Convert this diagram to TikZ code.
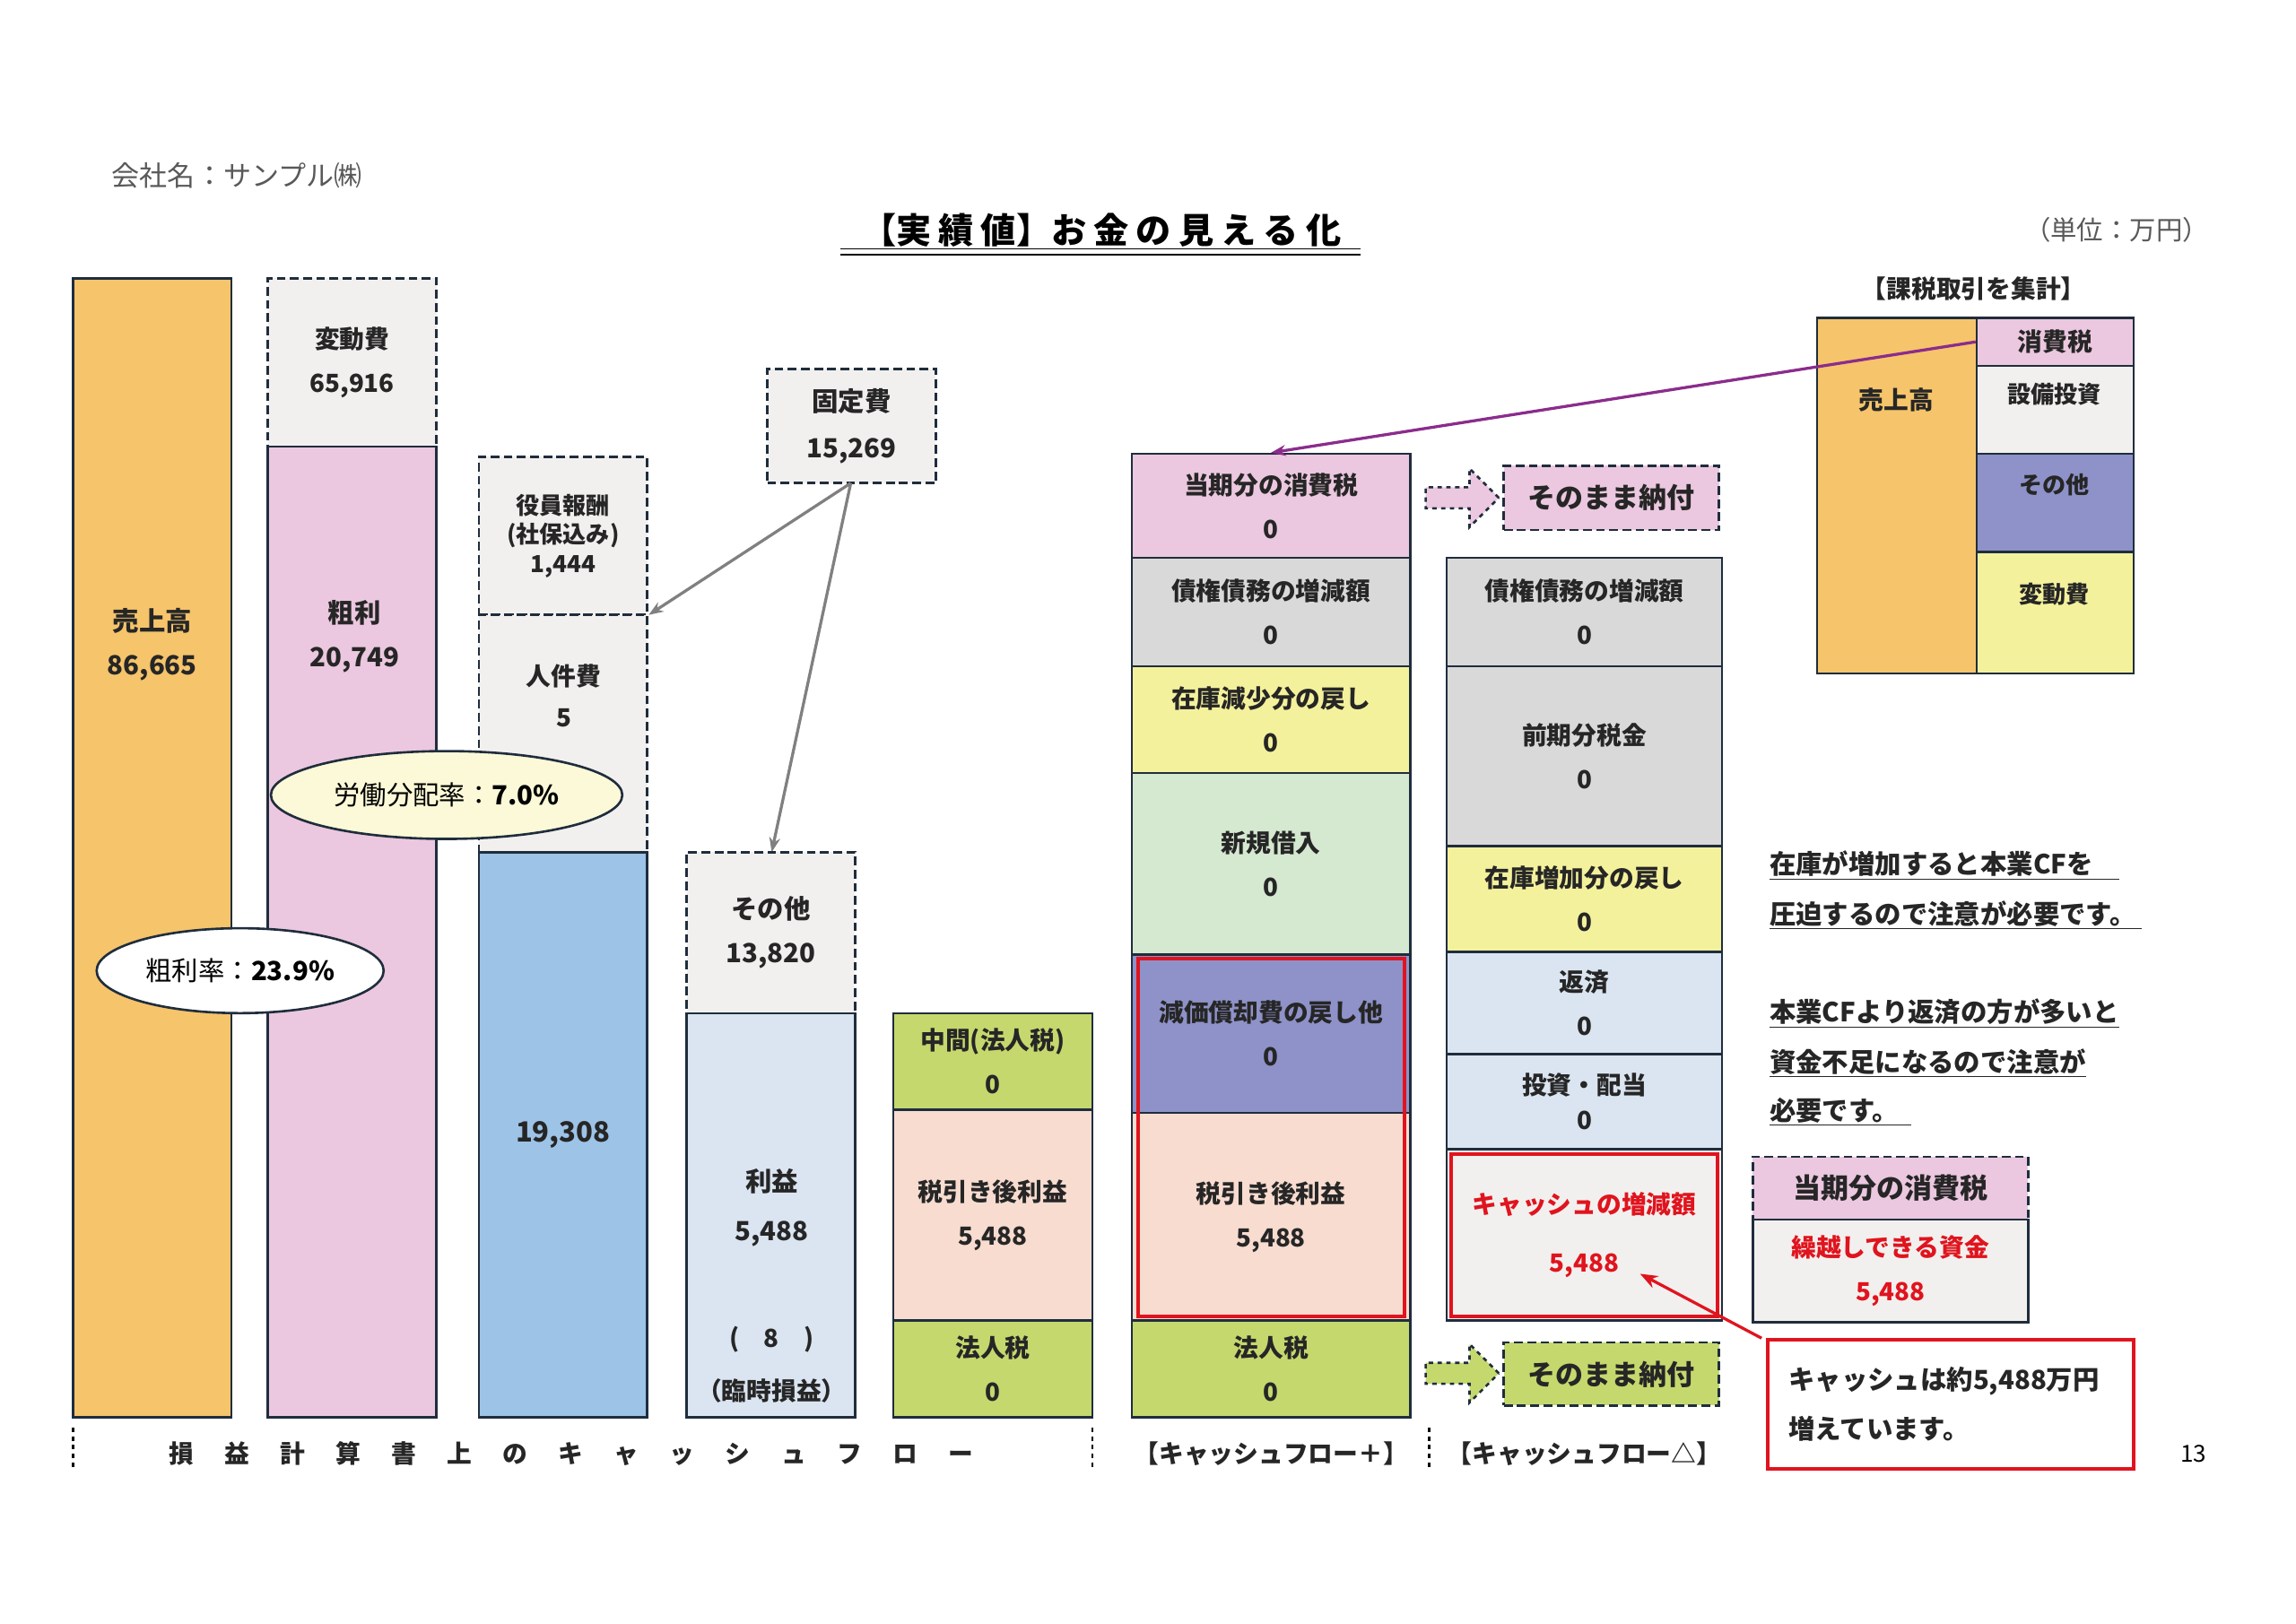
\documentclass[tikz,border=0pt]{standalone}
\usepackage{fontspec}
\setmainfont{Noto Sans CJK JP}
\usetikzlibrary{shapes.geometric,shapes.arrows,calc,arrows.meta}
\definecolor{nav}{HTML}{1F2D3D}
\definecolor{cor}{HTML}{F5C46B}
\definecolor{cpk}{HTML}{EBC8DF}
\definecolor{cgr}{HTML}{F2F0EE}
\definecolor{cbl}{HTML}{9DC3E6}
\definecolor{clb}{HTML}{DAE5F1}
\definecolor{cgn}{HTML}{C4D86E}
\definecolor{cpe}{HTML}{F8DCD0}
\definecolor{cdg}{HTML}{D9D9D9}
\definecolor{cye}{HTML}{F4F19C}
\definecolor{clg}{HTML}{D5E8D0}
\definecolor{cpu}{HTML}{8E92C8}
\definecolor{cre}{HTML}{E0141E}
\definecolor{cvi}{HTML}{8B2C8C}
\tikzset{
 bx/.style={draw=nav,line width=1.6pt,inner sep=0pt,align=center,font=\bfseries\fontsize{17}{30}\selectfont,text=black!85},
 dbx/.style={bx,dashed,dash pattern=on 6pt off 3pt},
 lbl/.style={font=\bfseries\fontsize{17}{24}\selectfont,text=black!85},
 redb/.style={draw=cre,line width=2.5pt},
}
\newcommand\mybox[7]{%
 \pgfmathsetmacro\bw{#4-#2}\pgfmathsetmacro\bh{#5-#3}%
 \pgfmathsetmacro\cx{(#2+#4)/2}\pgfmathsetmacro\cy{(#3+#5)/2}%
 \node[#6,minimum width=\bw pt,minimum height=\bh pt] (#1) at (\cx,\cy) {#7};}
\begin{document}
\begin{tikzpicture}[x=1pt,y=-1pt]
\useasboundingbox[fill=white] (0,0) rectangle (1568,1109);
\node[anchor=west,font=\fontsize{19}{22}\selectfont,text=black!65] (co) at (73,120) {会社名：サンプル㈱};
\node[font=\bfseries\fontsize{24}{28}\selectfont] (ti) at (752,157) {【実\hspace{5pt}績\hspace{5pt}値】お\hspace{5pt}金\hspace{5pt}の\hspace{5pt}見\hspace{5pt}え\hspace{5pt}る\hspace{5pt}化};
\draw[line width=1pt] (574,170) -- (929,170) (574,174) -- (929,174);
\node[anchor=east,font=\fontsize{18}{22}\selectfont,text=black!65] (un) at (1512,157) {（単位：万円）};
% bar1
\mybox{b1}{50}{190}{158}{968}{bx,fill=cor}{}
\node[lbl,align=center,font=\bfseries\fontsize{18}{30}\selectfont] (b1t) at (104,440) {売上高\\86,665};
% bar2
\mybox{b2a}{183}{190}{298}{305}{dbx,fill=cgr}{変動費\\65,916}
\mybox{b2b}{183}{305}{298}{968}{bx,fill=cpk}{}
\node[lbl,align=center,font=\bfseries\fontsize{18}{30}\selectfont] (b2t) at (242,435) {粗利\\20,749};
% bar3
\mybox{b3a}{327}{312}{442}{420}{dbx,fill=cgr,font=\bfseries\fontsize{16}{20}\selectfont}{役員報酬\\(社保込み)\\1,444}
\mybox{b3b}{327}{420}{442}{582}{dbx,fill=cgr}{}
\node[lbl,align=center,font=\bfseries\fontsize{17}{28}\selectfont] (b3bt) at (385,475) {人件費\\5};
\mybox{b3c}{327}{582}{442}{968}{bx,fill=cbl,font=\bfseries\fontsize{19}{24}\selectfont}{19,308}
% fixed cost
\mybox{fc}{524}{252}{639}{330}{dbx,fill=cgr,font=\bfseries\fontsize{18}{32}\selectfont}{固定費\\15,269}
\coordinate (fcs) at (581,330);
\coordinate (t1) at (443,420);
\coordinate (t2) at (527,582);
\draw[-{Stealth[length=10pt]},draw=black!50,line width=2pt] (fcs) -- (t1);
\draw[-{Stealth[length=10pt]},draw=black!50,line width=2pt] (fcs) -- (t2);
% bar4
\mybox{b4a}{469}{582}{584}{692}{dbx,fill=cgr,font=\bfseries\fontsize{18}{30}\selectfont}{その他\\13,820}
\mybox{b4b}{469}{692}{584}{968}{bx,fill=clb}{}
\node[lbl,align=center,font=\bfseries\fontsize{18}{34}\selectfont] (b4t) at (527,825) {利益\\5,488};
\node[lbl] (b4c) at (527,915) {(\quad 8\quad )};
\node[lbl] (b4d) at (527,950) {（臨時損益）};
% bar5
\mybox{b5a}{610}{692}{746}{758}{bx,fill=cgn}{中間(法人税)\\0}
\mybox{b5b}{610}{758}{746}{902}{bx,fill=cpe}{税引き後利益\\5,488}
\mybox{b5c}{610}{902}{746}{968}{bx,fill=cgn}{法人税\\0}
% ellipses
\node[ellipse,draw=nav,line width=1.6pt,fill=cye!40,minimum width=240pt,minimum height=60pt,font=\fontsize{18}{22}\selectfont] (e1) at (305,543) {労働分配率：\textbf{7.0\%}};
\node[ellipse,draw=nav,line width=1.6pt,fill=white,minimum width=196pt,minimum height=58pt,font=\fontsize{18}{22}\selectfont] (e2) at (164,663) {粗利率：\textbf{23.9\%}};
% bottom labels
\coordinate (d1a) at (50,975); \coordinate (d1b) at (50,1002);
\coordinate (d2a) at (746,975); \coordinate (d2b) at (746,1002);
\coordinate (d3a) at (976,975); \coordinate (d3b) at (976,1002);
\draw[dashed,line width=1.6pt] (d1a) -- (d1b) (d2a) -- (d2b) (d3a) -- (d3b);
\node[lbl] (pl) at (390,993) {損\hspace{21pt}益\hspace{21pt}計\hspace{21pt}算\hspace{21pt}書\hspace{21pt}上\hspace{21pt}の\hspace{21pt}キ\hspace{21pt}ャ\hspace{21pt}ッ\hspace{21pt}シ\hspace{21pt}ュ\hspace{21pt}フ\hspace{21pt}ロ\hspace{21pt}ー};
\node[lbl] (cfp) at (868,993) {【キャッシュフロー＋】};
\node[lbl] (cfm) at (1082,993) {【キャッシュフロー△】};
% column 6
\mybox{c6a}{773}{310}{963}{381}{bx,fill=cpk}{当期分の消費税\\0}
\mybox{c6b}{773}{381}{963}{455}{bx,fill=cdg}{債権債務の増減額\\0}
\mybox{c6c}{773}{455}{963}{528}{bx,fill=cye}{在庫減少分の戻し\\0}
\mybox{c6d}{773}{528}{963}{652}{bx,fill=clg}{新規借入\\0}
\mybox{c6e}{773}{652}{963}{760}{bx,fill=cpu}{減価償却費の戻し他\\0}
\mybox{c6f}{773}{760}{963}{902}{bx,fill=cpe}{税引き後利益\\5,488}
\mybox{c6g}{773}{902}{963}{968}{bx,fill=cgn}{法人税\\0}
\mybox{r6}{777}{655}{959}{899}{redb}{}
% column 7
\mybox{c7a}{988}{381}{1176}{455}{bx,fill=cdg}{債権債務の増減額\\0}
\mybox{c7b}{988}{455}{1176}{578}{bx,fill=cdg}{前期分税金\\0}
\mybox{c7c}{988}{578}{1176}{650}{bx,fill=cye}{在庫増加分の戻し\\0}
\mybox{c7d}{988}{650}{1176}{720}{bx,fill=clb}{返済\\0}
\mybox{c7e}{988}{720}{1176}{785}{bx,fill=clb,font=\bfseries\fontsize{17}{24}\selectfont}{投資・配当\\0}
\mybox{c7f}{988}{785}{1176}{902}{bx,fill=cgr}{}
\mybox{r7}{991}{788}{1173}{899}{redb,text=cre,align=center,font=\bfseries\fontsize{17}{40}\selectfont}{キャッシュの増減額\\5,488}
% block arrows and boxes
\node[single arrow,draw=nav,dashed,line width=1.6pt,fill=cpk,minimum height=50pt,minimum width=40pt,single arrow head extend=5pt,inner sep=2pt] (ar1) at (995,340) {};
\mybox{nf1}{1027}{318}{1174}{362}{dbx,fill=cpk,font=\bfseries\fontsize{19}{24}\selectfont}{そのまま納付}
\node[single arrow,draw=nav,dashed,line width=1.6pt,fill=cgn,minimum height=50pt,minimum width=40pt,single arrow head extend=5pt,inner sep=2pt] (ar2) at (995,938) {};
\mybox{nf2}{1027}{917}{1174}{960}{dbx,fill=cgn,font=\bfseries\fontsize{19}{24}\selectfont}{そのまま納付}
% top right
\node[lbl] (kz) at (1348,197) {【課税取引を集計】};
\mybox{tr1}{1241}{217}{1350}{460}{bx,fill=cor}{}
\node[lbl] (tr1t) at (1295,273) {売上高};
\mybox{tr2}{1350}{217}{1457}{250}{bx,fill=cpk}{消費税}
\mybox{tr3}{1350}{250}{1457}{310}{bx,fill=cgr}{}
\node[lbl,font=\bfseries\fontsize{16}{20}\selectfont] (tr3t) at (1403,269) {設備投資};
\mybox{tr4}{1350}{310}{1457}{377}{bx,fill=cpu}{}
\node[lbl,font=\bfseries\fontsize{16}{20}\selectfont] (tr4t) at (1403,331) {その他};
\mybox{tr5}{1350}{377}{1457}{460}{bx,fill=cye}{}
\node[lbl,font=\bfseries\fontsize{16}{20}\selectfont] (tr5t) at (1403,406) {変動費};
\draw[-{Stealth[length=10pt]},draw=cvi,line width=2pt] (tr2.west) -- (c6a.north);
% notes
\tikzset{note/.style={anchor=base west,font=\bfseries\fontsize{18}{22}\selectfont,text=black!85}}
\node[note] (n1) at (1205,597) {\underline{在庫が増加すると本業CFを\phantom{。}}};
\node[note] (n2) at (1205,631) {\underline{圧迫するので注意が必要です。\ }};
\node[note] (n3) at (1205,698) {\underline{本業CFより返済の方が多いと}};
\node[note] (n4) at (1205,732) {\underline{資金不足になるので注意が}};
\node[note] (n5) at (1205,765) {\underline{必要です。\ \ }};
% carryover box
\mybox{co1}{1197}{790}{1385}{833}{dbx,fill=cpk,font=\bfseries\fontsize{19}{24}\selectfont}{当期分の消費税}
\mybox{co2}{1197}{833}{1385}{903}{bx,fill=cgr,text=cre,font=\bfseries\fontsize{17}{30}\selectfont}{繰越しできる資金\\5,488}
% red note
\mybox{rn}{1207}{915}{1457}{1003}{redb,fill=white}{}
\node[anchor=west,align=left,font=\bfseries\fontsize{18}{34}\selectfont,text=black!85] (rnt) at (1218,959) {キャッシュは約5,488万円\\増えています。};
\coordinate (rs) at (1203,914);
\coordinate (re) at (1120,870);
\draw[-{Stealth[length=12pt]},draw=cre,line width=2pt] (rs) -- (re);
\node[font=\fontsize{16}{20}\selectfont] (pg) at (1498,993) {13};
\end{tikzpicture}
\end{document}
